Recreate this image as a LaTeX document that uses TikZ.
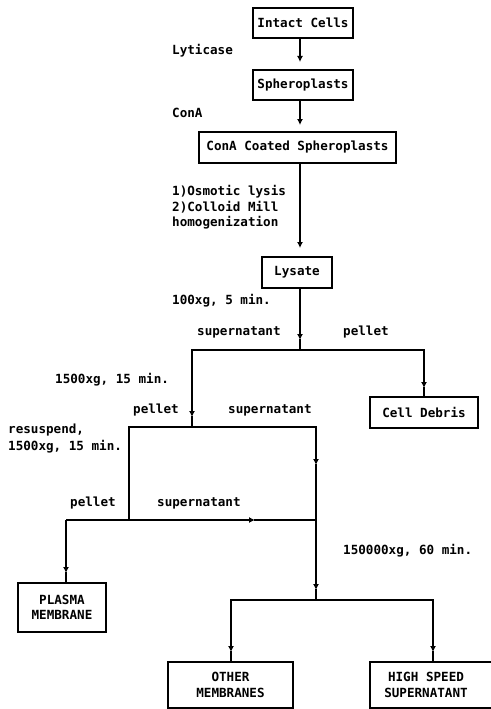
\documentclass[tikz,border=0pt]{standalone}
\usepackage{fontspec}
\newfontfamily\diafont{DejaVu Sans Mono}
\newcommand\diatext{\diafont\bfseries\fontsize{12.6}{15.5}\selectfont}
\usetikzlibrary{arrows.meta}
\begin{document}
\begin{tikzpicture}[x=1pt,y=-1pt,
  box/.style={draw,line width=1.5pt,inner sep=0pt,align=center,font=\diatext},
  lbl/.style={anchor=base west,inner sep=0pt,font=\diatext},
  ln/.style={line width=1.5pt,line cap=rect},
  arr/.style={line width=1.5pt,-{Latex[length=6pt,width=6pt]}}]
\useasboundingbox (0,0) rectangle (490,709);
\fill[white] (0,0) rectangle (490,709);

% boxes
\node[box,minimum width=100pt,minimum height=30pt] (intact) at (303,23) {Intact Cells};
\node[box,minimum width=100pt,minimum height=30pt] (sphero) at (303,85) {Spheroplasts};
\node[box,minimum width=197pt,minimum height=31pt] (conA) at (297.5,147.5) {ConA Coated Spheroplasts};
\node[box,minimum width=70pt,minimum height=31pt] (lysate) at (297,272.5) {Lysate};
\node[box,minimum width=108pt,minimum height=31pt] (debris) at (424,412.5) {Cell Debris};
\node[box,minimum width=88pt,minimum height=49pt] (plasma) at (62,607.5) {PLASMA\\MEMBRANE};
\node[box,minimum width=125pt,minimum height=46pt] (other) at (230.5,685) {OTHER\\MEMBRANES};
\node[box,minimum width=126pt,minimum height=46pt] (high) at (433,685) {HIGH SPEED\hspace*{14pt}\\SUPERNATANT\hspace*{14pt}};

% labels
\node[lbl] (l1) at (172,55) {Lyticase};
\node[lbl] (l2) at (172,117) {ConA};
\node[lbl] (l3a) at (172,195) {1)Osmotic lysis};
\node[lbl] (l3b) at (172,211) {2)Colloid Mill};
\node[lbl] (l3c) at (172,226) {homogenization};
\node[lbl] (l4) at (172,304) {100xg, 5 min.};
\node[lbl] (l5) at (197,335) {supernatant};
\node[lbl] (l6) at (343,335) {pellet};
\node[lbl] (l7) at (55,383) {1500xg, 15 min.};
\node[lbl] (l8) at (133,413) {pellet};
\node[lbl] (l9) at (228,413) {supernatant};
\node[lbl] (l10a) at (8,433) {resuspend,};
\node[lbl] (l10b) at (8,450) {1500xg, 15 min.};
\node[lbl] (l11) at (70,506) {pellet};
\node[lbl] (l12) at (157,506) {supernatant};
\node[lbl] (l13) at (343,554) {150000xg, 60 min.};

% junction and tip points
\coordinate (t1) at (300,62);
\coordinate (t2) at (300,125);
\coordinate (t3) at (300,248);
\coordinate (t4) at (300,340);
\coordinate (j1) at (300,350);
\coordinate (jl1) at (192,350);
\coordinate (jr1) at (424,350);
\coordinate (t5) at (424,388);
\coordinate (t6) at (192,417);
\coordinate (j2) at (192,427);
\coordinate (jl2) at (129,427);
\coordinate (jr2) at (316,427);
\coordinate (t7) at (316,465);
\coordinate (j3) at (316,520);
\coordinate (jl3) at (129,520);
\coordinate (jp) at (66,520);
\coordinate (t8) at (255,520);
\coordinate (t9) at (66,573);
\coordinate (t10) at (316,590);
\coordinate (j4) at (316,600);
\coordinate (jl4) at (231,600);
\coordinate (jr4) at (433,600);
\coordinate (t11) at (231,652);
\coordinate (t12) at (433,652);

% connectors
\draw[arr] (intact.south -| t1) -- (t1);
\draw[arr] (sphero.south -| t2) -- (t2);
\draw[arr] (conA.south -| t3) -- (t3);
\draw[arr] (lysate.south -| t4) -- (t4);
\draw[ln] (t4) -- (j1);
\draw[ln] (jl1) -- (jr1);
\draw[arr] (jr1) -- (t5);
\draw[ln] (t5) -- (debris.north -| t5);
\draw[arr] (jl1) -- (t6);
\draw[ln] (t6) -- (j2);
\draw[ln] (jl2) -- (jr2);
\draw[arr] (jr2) -- (t7);
\draw[ln] (t7) -- (j3);
\draw[ln] (jl2) -- (jl3);
\draw[arr] (jp) -- (t8);
\draw[ln] (t8) -- (j3);
\draw[arr] (jp) -- (t9);
\draw[ln] (t9) -- (plasma.north -| t9);
\draw[arr] (j3) -- (t10);
\draw[ln] (t10) -- (j4);
\draw[ln] (jl4) -- (jr4);
\draw[arr] (jl4) -- (t11);
\draw[ln] (t11) -- (other.north -| t11);
\draw[arr] (jr4) -- (t12);
\draw[ln] (t12) -- (high.north -| t12);
\end{tikzpicture}
\end{document}
